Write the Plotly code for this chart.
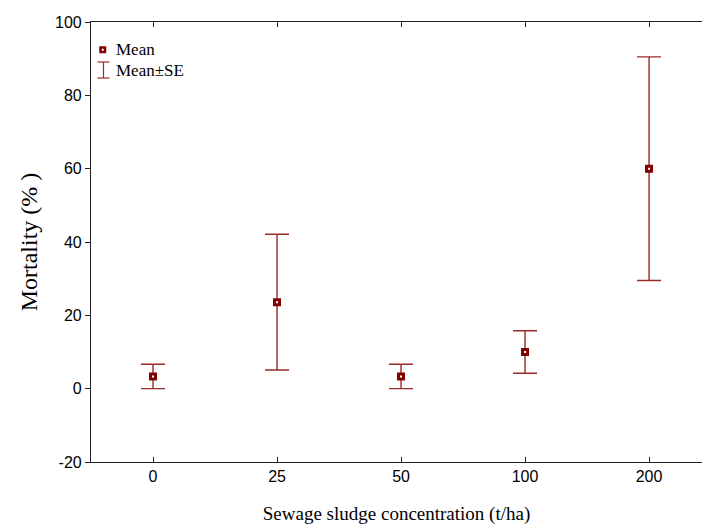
import plotly.graph_objects as go

# Sewage sludge treatment levels and mortality statistics
concentrations = ["0", "25", "50", "100", "200"]
mean_mortality = [3.33, 23.6, 3.33, 10.0, 60.0]
se_mortality = [3.33, 18.5, 3.33, 5.8, 30.5]

y_ticks = [-20, 0, 20, 40, 60, 80, 100]
y_tick_text = ["-20", "0", "20", "40", "60", "80", "100"]

BAR_COLOR = "#9a2a2a"
MARK_COLOR = "#800000"

fig = go.Figure()
fig.add_trace(go.Scatter(
    x=concentrations,
    y=mean_mortality,
    mode="markers",
    name="Mean",
    marker=dict(symbol="square", size=5, color="white",
                line=dict(color=MARK_COLOR, width=3)),
    error_y=dict(type="data", array=se_mortality, visible=True,
                 color=BAR_COLOR, thickness=1.4, width=12),
    showlegend=False,
))

# Plot-area geometry in pixels, used to place the hand-drawn legend
W, H = 702, 528
L, R, T, B = 91, 0, 22, 66
pw, ph = W - L - R, H - T - B


def px(x):
    return (x - L) / pw


def py(y):
    return (H - B - y) / ph


shapes = [
    # "Mean" square marker
    dict(type="rect", xref="paper", yref="paper",
         x0=px(100.5), x1=px(105), y0=py(52), y1=py(47.5),
         fillcolor="white", line=dict(color=MARK_COLOR, width=2.5)),
    # "Mean±SE" whisker glyph
    dict(type="line", xref="paper", yref="paper",
         x0=px(103.5), x1=px(103.5), y0=py(62), y1=py(78),
         line=dict(color=BAR_COLOR, width=1.2)),
    dict(type="line", xref="paper", yref="paper",
         x0=px(97.5), x1=px(109.5), y0=py(62), y1=py(62),
         line=dict(color=BAR_COLOR, width=1.2)),
    dict(type="line", xref="paper", yref="paper",
         x0=px(97.5), x1=px(109.5), y0=py(78), y1=py(78),
         line=dict(color=BAR_COLOR, width=1.2)),
]

legend_font = dict(family="Liberation Serif", size=17, color="black")
annotations = [
    dict(text="Mean", xref="paper", yref="paper", x=px(114), y=py(50),
         xanchor="left", yanchor="middle", showarrow=False, font=legend_font),
    dict(text="Mean±SE", xref="paper", yref="paper", x=px(114), y=py(70),
         xanchor="left", yanchor="middle", showarrow=False, font=legend_font),
]

fig.update_layout(
    width=W, height=H,
    margin=dict(l=L, r=R, t=T, b=B),
    paper_bgcolor="white",
    plot_bgcolor="white",
    shapes=shapes,
    annotations=annotations,
    xaxis=dict(
        type="category",
        range=[-0.5, 4.427],
        showline=True, linecolor="#222222", linewidth=1.2,
        mirror="ticks",
        ticks="inside", ticklen=5, tickcolor="#222222",
        showgrid=False, zeroline=False,
        tickfont=dict(family="Liberation Sans", size=16, color="black"),
        title=dict(text="Sewage sludge concentration (t/ha)",
                   font=dict(family="Liberation Serif", size=19, color="black"),
                   standoff=22),
    ),
    yaxis=dict(
        range=[-20, 100],
        tickvals=y_ticks,
        ticktext=y_tick_text,
        showline=True, linecolor="#222222", linewidth=1.2,
        ticks="outside", ticklen=5, tickcolor="#222222",
        showgrid=False, zeroline=False,
        tickfont=dict(family="Liberation Sans", size=16, color="black"),
        title=dict(text="Mortality (% )",
                   font=dict(family="Liberation Serif", size=24, color="black"),
                   standoff=10),
    ),
)

fig.write_html("out.html")
